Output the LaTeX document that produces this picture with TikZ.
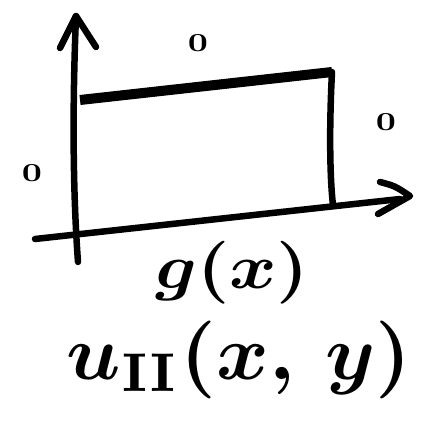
\documentclass[tikz,border=0pt]{standalone}
\usepackage{graphicx}
\usetikzlibrary{arrows.meta}
\tikzset{
  ink/.style={line width=6.5pt, line cap=round, line join=round, black},
  thickink/.style={line width=10pt, line cap=butt, black},
  zero/.style={inner sep=0pt},
  lbl/.style={inner sep=0pt}
}
\begin{document}
\begin{tikzpicture}[x=1pt,y=-1pt]
\useasboundingbox (0,0) rectangle (429,428);
% axes
\coordinate (yb) at (78,262);
\coordinate (yt) at (76,16);
\coordinate (xl) at (35,239);
\coordinate (xr) at (410,196);
\draw[ink] (yb) .. controls (72,180) and (73,90) .. (yt);
\draw[ink] (60,48) -- (yt) -- (96,47);
\draw[ink] (xl) -- (400,199);
\draw[ink] (380,182) .. controls (395,186) .. (xr) -- (378,214);
% rectangle
\coordinate (tl) at (80,100);
\coordinate (tr) at (332,72);
\coordinate (br) at (333,205);
\draw[thickink] (tl) -- (tr);
\draw[ink] (tr) .. controls (329,130) and (330,180) .. (br);
% zeros
\node[zero] (z1) at (198,43) {\scalebox{3.5}[2.6]{\textbf{0}}};
\node[zero] (z2) at (386,122) {\scalebox{3.5}[2.6]{\textbf{0}}};
\node[zero] (z3) at (32,173) {\scalebox{3.5}[2.6]{\textbf{0}}};
% labels
\node[lbl] (g) at (232,273) {\scalebox{7.2}[6.3]{\boldmath$g(x)$}};
\node[lbl] (u) at (239,360) {\scalebox{8}[7.8]{\boldmath$u_{\mathrm{\mathbf{II}}}(x,\, y)$}};
\end{tikzpicture}
\end{document}
